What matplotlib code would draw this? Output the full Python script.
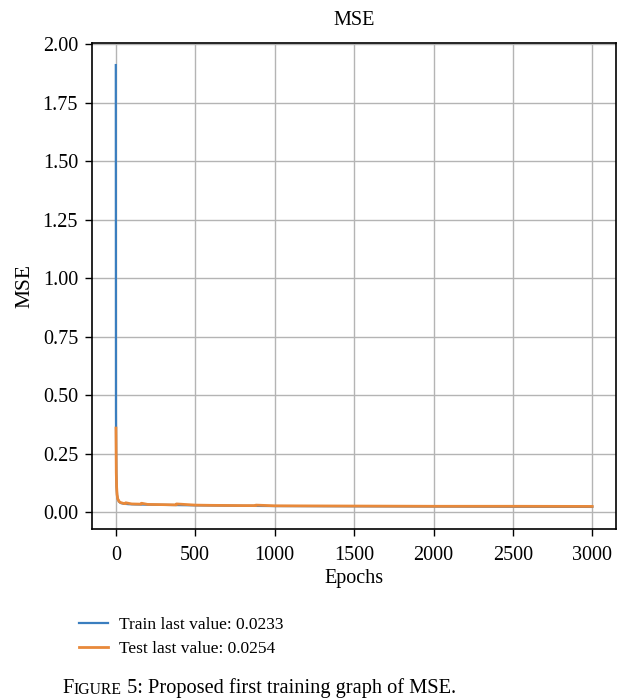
import matplotlib
matplotlib.use("Agg")
import matplotlib.pyplot as plt

plt.rcParams["font.family"] = ["Liberation Serif", "DejaVu Serif"]

# values (epoch, mse)
train_epochs = [0, 1, 2, 3, 5, 8, 12, 20, 30, 50, 80, 120, 200, 300, 500, 800, 1000,
                1500, 2000, 2500, 2999]
train_mse = [1.91, 0.43, 0.26, 0.17, 0.11, 0.075, 0.058, 0.046, 0.040, 0.037, 0.035,
             0.034, 0.033, 0.032, 0.030, 0.028, 0.027, 0.026, 0.025, 0.024, 0.0233]

test_epochs = [1, 2, 3, 5, 8, 12, 20, 30, 50, 60, 62, 100, 160, 162, 200, 300, 380,
               382, 500, 600, 800, 880, 882, 1000, 1500, 2000, 2500, 2999]
test_mse = [0.36, 0.26, 0.17, 0.11, 0.075, 0.058, 0.047, 0.042, 0.038, 0.037, 0.041,
            0.036, 0.035, 0.039, 0.034, 0.033, 0.032, 0.036, 0.031, 0.030, 0.029, 0.029,
            0.031, 0.028, 0.027, 0.026, 0.026, 0.0254]

x_ticks = [0, 500, 1000, 1500, 2000, 2500, 3000]
y_ticks = [0.00, 0.25, 0.50, 0.75, 1.00, 1.25, 1.50, 1.75, 2.00]

fig = plt.figure(figsize=(6.27, 6.99), dpi=100)
ax = fig.add_axes([0.1467, 0.2432, 0.8358, 0.6953])

ax.plot(train_epochs, train_mse, color="#3a7ebf", lw=1.6,
        label="Train last value: %.4f" % train_mse[-1])
ax.plot(test_epochs, test_mse, color="#e8893a", lw=2.0,
        label="Test last value: %.4f" % test_mse[-1])

ax.set_xticks(x_ticks)
ax.set_yticks(y_ticks)
ax.set_yticklabels(["%.2f" % v for v in y_ticks])
ax.grid(True, color="#b4b4b4", lw=1.0)
ax.set_axisbelow(True)
ax.tick_params(labelsize=14.5, length=5, width=1.0, color="black")
ax.tick_params(axis="x", pad=7)
ax.tick_params(axis="y", pad=5)
for s in ax.spines.values():
    s.set_color("black")
    s.set_linewidth(1.2)

ax.set_title("MSE", fontsize=14.5, pad=13)
ax.set_xlabel("Epochs", fontsize=14.5, labelpad=3)
ax.set_ylabel("MSE", fontsize=15.5, labelpad=6)

fig.legend(loc="upper left", bbox_to_anchor=(0.115, 0.127), frameon=False,
           fontsize=12.5, handlelength=1.67, handletextpad=0.63, labelspacing=0.45,
           borderaxespad=0)

# caption in small caps style
t1 = fig.text(0.10, 0.008, "F", fontsize=14.7, va="baseline")
t2 = ax.annotate("IGURE", xy=(1, 0), xycoords=t1, fontsize=11.3, va="bottom",
                 annotation_clip=False)
ax.annotate(" 5: Proposed first training graph of MSE.", xy=(1, 0), xycoords=t2,
            fontsize=14.7, va="bottom", annotation_clip=False)

fig.savefig("out.png", dpi=100)
